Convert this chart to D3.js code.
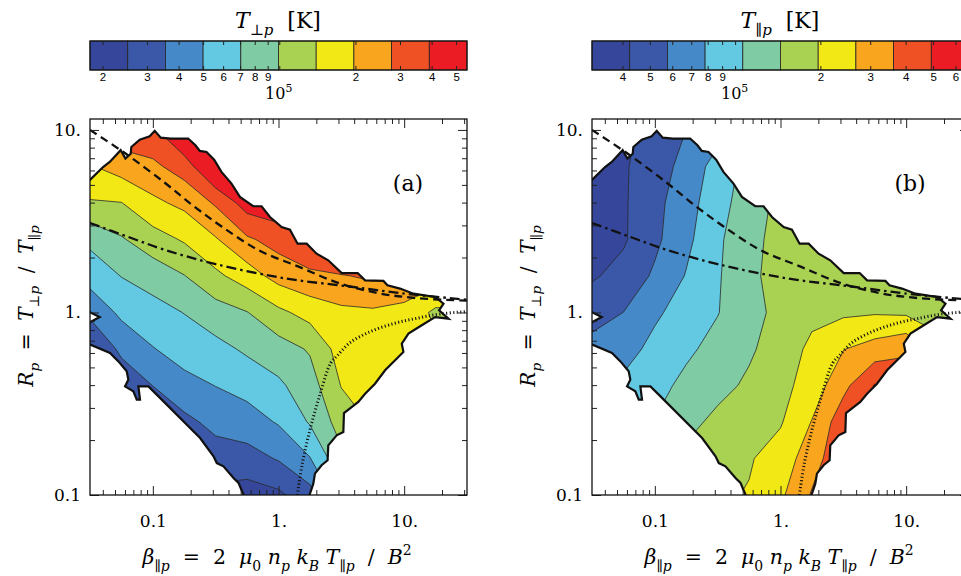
<!DOCTYPE html>
<html>
<head>
<meta charset="utf-8">
<script src="https://cdn.jsdelivr.net/npm/d3@7"></script>
<style>
  body { margin: 0; background: #fff; }
  svg { display: block; }
  text { font-family: "DejaVu Serif", "Liberation Serif", serif; fill: #000; white-space: pre; }
</style>
</head>
<body>
<svg id="chart" width="961" height="576"></svg>
<script>
// grid nodes: log10(beta_par) for columns, log10(R_p) for rows (top row first)
var gridLogBeta = [-1.5, -1.25, -1.0, -0.75, -0.5, -0.25, 0, 0.25, 0.5, 0.75, 1.0, 1.25, 1.5];
var gridLogR = [1.2, 1.0, 0.8, 0.6, 0.4, 0.2, 0.0, -0.2, -0.4, -0.6, -0.8, -1.0];

// log10(T_perp / K)
var logTperp = [
  [5.68, 5.73, 5.72, 5.81, 5.89, 5.89, 5.89, 5.89, 5.89, 5.89, 5.89, 5.74, 5.74],
  [5.48, 5.54, 5.56, 5.78, 5.86, 5.89, 5.89, 5.89, 5.89, 5.89, 5.89, 5.74, 5.74],
  [5.28, 5.36, 5.41, 5.51, 5.78, 5.84, 5.86, 5.87, 5.89, 5.89, 5.89, 5.74, 5.74],
  [5.13, 5.14, 5.26, 5.33, 5.46, 5.66, 5.70, 5.81, 5.81, 5.81, 5.74, 5.67, 5.67],
  [4.88, 4.98, 5.08, 5.16, 5.28, 5.42, 5.50, 5.58, 5.74, 5.67, 5.59, 5.52, 5.52],
  [4.76, 4.85, 4.91, 4.99, 5.11, 5.22, 5.35, 5.41, 5.43, 5.47, 5.38, 5.37, 5.37],
  [4.58, 4.73, 4.79, 4.85, 4.93, 4.99, 5.11, 5.20, 5.26, 5.27, 5.26, 5.11, 5.11],
  [4.40, 4.58, 4.69, 4.76, 4.80, 4.87, 4.93, 5.01, 5.21, 5.23, 5.26, 5.17, 5.14],
  [4.28, 4.45, 4.55, 4.65, 4.70, 4.75, 4.82, 4.93, 5.15, 5.19, 5.22, 5.17, 5.14],
  [4.18, 4.32, 4.43, 4.51, 4.59, 4.63, 4.71, 4.86, 5.06, 5.16, 5.19, 5.14, 5.14],
  [4.10, 4.22, 4.31, 4.38, 4.48, 4.49, 4.56, 4.69, 4.96, 5.11, 5.16, 5.13, 5.13],
  [4.03, 4.13, 4.21, 4.28, 4.36, 4.33, 4.37, 4.49, 4.80, 5.07, 5.11, 5.10, 5.10]
];

// log10(T_par / K)
var logTpar = [
  [4.49, 4.57, 4.67, 4.73, 4.83, 5.03, 5.16, 5.19, 5.23, 5.23, 5.23, 5.16, 5.16],
  [4.51, 4.59, 4.68, 4.76, 4.84, 5.04, 5.17, 5.20, 5.23, 5.23, 5.23, 5.16, 5.16],
  [4.52, 4.61, 4.70, 4.80, 4.95, 5.07, 5.19, 5.21, 5.23, 5.23, 5.23, 5.16, 5.16],
  [4.53, 4.61, 4.72, 4.84, 4.97, 5.10, 5.19, 5.21, 5.23, 5.23, 5.23, 5.15, 5.15],
  [4.56, 4.61, 4.73, 4.86, 5.00, 5.13, 5.19, 5.21, 5.24, 5.23, 5.23, 5.15, 5.15],
  [4.61, 4.67, 4.78, 4.90, 5.01, 5.14, 5.19, 5.21, 5.25, 5.24, 5.24, 5.13, 5.13],
  [4.71, 4.76, 4.87, 4.95, 5.02, 5.12, 5.19, 5.26, 5.27, 5.28, 5.27, 5.21, 5.21],
  [4.80, 4.84, 4.93, 5.00, 5.07, 5.14, 5.22, 5.32, 5.42, 5.48, 5.54, 5.36, 5.36],
  [4.89, 4.92, 4.98, 5.06, 5.12, 5.18, 5.25, 5.35, 5.52, 5.70, 5.62, 5.49, 5.49],
  [4.99, 5.03, 5.03, 5.12, 5.19, 5.24, 5.28, 5.43, 5.64, 5.66, 5.66, 5.56, 5.56],
  [5.07, 5.11, 5.09, 5.19, 5.23, 5.28, 5.35, 5.50, 5.66, 5.66, 5.69, 5.62, 5.62],
  [5.15, 5.19, 5.16, 5.24, 5.27, 5.30, 5.40, 5.57, 5.69, 5.66, 5.69, 5.66, 5.66]
];

// outline of the populated region, [log10 beta, log10 R]
var regionEdge = [
  [-1.53, 0.706], [-1.396, 0.797], [-1.343, 0.825], [-1.256, 0.889], [-1.218, 0.843], [-1.176, 0.870],
  [-1.171, 0.907], [-1.104, 0.947], [-1.025, 0.965], [-0.985, 0.995], [-0.937, 0.958], [-0.857, 0.953],
  [-0.719, 0.953], [-0.661, 0.916], [-0.626, 0.885], [-0.573, 0.879], [-0.512, 0.837], [-0.454, 0.770],
  [-0.374, 0.706], [-0.307, 0.633], [-0.201, 0.582], [-0.135, 0.582], [-0.068, 0.523], [0.025, 0.468],
  [0.091, 0.454], [0.152, 0.377], [0.224, 0.377], [0.303, 0.322], [0.396, 0.286], [0.503, 0.216],
  [0.630, 0.216], [0.689, 0.176], [0.835, 0.173], [0.867, 0.149], [0.967, 0.131], [1.074, 0.103],
  [1.246, 0.085], [1.313, 0.048], [1.278, 0.012], [1.353, -0.034], [1.246, -0.025], [1.140, -0.070],
  [1.034, -0.116], [0.981, -0.171], [0.994, -0.216], [0.928, -0.262], [0.848, -0.317], [0.768, -0.390],
  [0.689, -0.445], [0.635, -0.490], [0.582, -0.518], [0.521, -0.551], [0.516, -0.655], [0.463, -0.673],
  [0.396, -0.728], [0.391, -0.810], [0.343, -0.837], [0.290, -0.883], [0.277, -0.938], [0.237, -1.02],
  [-0.265, -1.02], [-0.318, -0.934], [-0.358, -0.907], [-0.438, -0.843], [-0.491, -0.825], [-0.517, -0.788],
  [-0.624, -0.688], [-0.969, -0.450], [-1.035, -0.405], [-1.115, -0.405], [-1.102, -0.478], [-1.128, -0.478],
  [-1.155, -0.432], [-1.221, -0.405], [-1.195, -0.368], [-1.208, -0.322], [-1.274, -0.268], [-1.341, -0.222],
  [-1.53, -0.167], [-1.53, -0.065], [-1.423, -0.025], [-1.53, 0.012]
];

// threshold curves, [log10 beta, log10 R]
var mirrorCurve = [[-1.5, 1.0], [-1.22, 0.872], [-0.9, 0.708], [-0.67, 0.58], [-0.45, 0.47], [-0.16, 0.342],
  [0.16, 0.251], [0.48, 0.161], [0.8, 0.105], [1.11, 0.078], [1.5, 0.065]];
var cyclotronCurve = [[-1.5, 0.49], [-1.2, 0.415], [-0.9, 0.342], [-0.5, 0.265], [0.05, 0.187], [0.58, 0.141],
  [0.98, 0.105], [1.5, 0.07]];
var firehoseCurve = [[0.15, -1.0], [0.19, -0.826], [0.25, -0.644], [0.325, -0.461], [0.415, -0.278], [0.47, -0.235],
  [0.57, -0.165], [0.73, -0.105], [0.92, -0.06], [1.1, -0.032], [1.29, -0.008], [1.5, 0.005]];

// colour bars: log10 T range and labelled ticks
var perpBarLogT = [4.25, 5.74];
var parBarLogT = [4.493, 5.824];
var perpBarTicks = [2e4, 3e4, 4e4, 5e4, 6e4, 7e4, 8e4, 9e4, 1e5, 2e5, 3e5, 4e5, 5e5];
var parBarTicks = [4e4, 5e4, 6e4, 7e4, 8e4, 9e4, 1e5, 2e5, 3e5, 4e5, 5e5, 6e5];
var bandColors = ["#35469b", "#3b57a7", "#4689c8", "#63c9e2", "#7ecba4", "#a9d152", "#f2e815", "#f9a51d", "#ef5125", "#ec1c24"];

var axisMajor = [0.1, 1, 10];
var axisMajorLabels = ["0.1", "1.", "10."];

var svg = d3.select("#chart");
var defs = svg.append("defs");
var pow10 = function(v) { return Math.pow(10, v); };

// write text made of [string, style, level] parts; level 1 = subscript, -1 = superscript
function richText(sel, parts, size) {
  var cur = 0;
  parts.forEach(function(p) {
    var ts = sel.append("tspan").text(p[0]);
    if (p[1] == "i") ts.style("font-style", "italic");
    var target = p[2] == 1 ? size * 0.32 : (p[2] == -1 ? -size * 0.45 : 0);
    if (target != cur) { ts.attr("dy", target - cur); cur = target; }
    if (p[2] != 0) ts.style("font-size", (size * 0.68) + "px");
  });
}

function colorbar(left, logRange, ticks) {
  var cb = d3.scaleLog().domain([pow10(logRange[0]), pow10(logRange[1])]).range([left, left + 377]);
  var step = (logRange[1] - logRange[0]) / 10;
  var g = svg.append("g");
  d3.range(10).forEach(function(k) {
    var x0 = cb(pow10(logRange[0] + k * step)), x1 = cb(pow10(logRange[0] + (k + 1) * step));
    g.append("rect").attr("x", x0).attr("y", 41).attr("width", x1 - x0).attr("height", 29)
      .attr("fill", bandColors[k]).attr("stroke", "#222").attr("stroke-width", 0.8);
  });
  g.append("rect").attr("x", left).attr("y", 41).attr("width", 377).attr("height", 29)
    .attr("fill", "none").attr("stroke", "#111").attr("stroke-width", 1.2);
  ticks.forEach(function(t) {
    var xt = cb(t);
    g.append("line").attr("x1", xt).attr("x2", xt).attr("y1", 41).attr("y2", 45).attr("stroke", "#222").attr("stroke-width", 1);
    g.append("line").attr("x1", xt).attr("x2", xt).attr("y1", 66).attr("y2", 70).attr("stroke", "#222").attr("stroke-width", 1);
    if (t == 1e5) {
      var tx = g.append("text").attr("x", xt - 1).attr("y", 99).attr("text-anchor", "middle").style("font-size", "16px");
      richText(tx, [["10", "n", 0], ["5", "n", -1]], 16);
    } else {
      var d = Math.round(t / pow10(Math.floor(Math.log10(t))));
      g.append("text").attr("x", xt).attr("y", 81).attr("text-anchor", "middle")
        .style("font-family", "'Liberation Sans', 'DejaVu Sans', sans-serif").style("font-size", "11.5px").text(d);
    }
  });
}

function panel(id, left, grid, barRange, letter, barTitle) {
  var x = d3.scaleLog().domain([pow10(-1.5), pow10(1.5)]).range([left, left + 377]);
  var y = d3.scaleLog().domain([0.1, pow10(1.06)]).range([495, 119]);
  var g = svg.append("g");

  defs.append("clipPath").attr("id", "plot" + id).append("rect")
    .attr("x", left).attr("y", 119).attr("width", 377).attr("height", 376);

  var edgeLine = d3.line()
    .x(function(d) { return x(pow10(d[0])); })
    .y(function(d) { return y(pow10(d[1])); });
  defs.append("clipPath").attr("id", "region" + id).append("path").attr("d", edgeLine(regionEdge) + "Z");

  // filled contours from the grid
  var db = gridLogBeta[1] - gridLogBeta[0], dr = gridLogR[1] - gridLogR[0];
  var proj = d3.geoTransform({ point: function(px, py) {
    var lb = gridLogBeta[0] + (px - 0.5) * db;
    var lr = gridLogR[0] + (py - 0.5) * dr;
    this.stream.point(x(pow10(lb)), y(pow10(lr)));
  }});
  var path = d3.geoPath(proj);
  var step = (barRange[1] - barRange[0]) / 10;
  var levels = d3.range(1, 10).map(function(k) { return barRange[0] + k * step; });
  var flat = [].concat.apply([], grid);
  var bands = d3.contours().size([gridLogBeta.length, gridLogR.length]).thresholds(levels)(flat);

  var fillG = g.append("g").attr("clip-path", "url(#plot" + id + ")")
    .append("g").attr("clip-path", "url(#region" + id + ")");
  fillG.append("path").attr("d", edgeLine(regionEdge) + "Z").attr("fill", bandColors[0]);
  fillG.selectAll("path.band").data(bands).enter().append("path")
    .attr("class", "band")
    .attr("d", path)
    .attr("fill", function(d, i) { return bandColors[i + 1]; })
    .attr("stroke", "#2a2a2a").attr("stroke-width", 0.8).attr("stroke-linejoin", "round");

  var lineG = g.append("g").attr("clip-path", "url(#plot" + id + ")");
  lineG.append("path").attr("d", edgeLine(regionEdge) + "Z")
    .attr("fill", "none").attr("stroke", "#111").attr("stroke-width", 2.2).attr("stroke-linejoin", "miter");

  var curve = d3.line()
    .x(function(d) { return x(pow10(d[0])); })
    .y(function(d) { return y(pow10(d[1])); })
    .curve(d3.curveCatmullRom);
  lineG.append("path").attr("d", curve(mirrorCurve)).attr("fill", "none")
    .attr("stroke", "#111").attr("stroke-width", 2.3).attr("stroke-dasharray", "8,5");
  lineG.append("path").attr("d", curve(cyclotronCurve)).attr("fill", "none")
    .attr("stroke", "#111").attr("stroke-width", 2.3).attr("stroke-dasharray", "10,4,2.5,4");
  lineG.append("path").attr("d", curve(firehoseCurve)).attr("fill", "none")
    .attr("stroke", "#111").attr("stroke-width", 3).attr("stroke-dasharray", "1.1,2.4");

  // axes: inward ticks on all four sides
  var isMajor = function(t) { return Math.abs(Math.log10(t) - Math.round(Math.log10(t))) < 1e-6; };
  var xMinor = x.ticks().filter(function(t) { return !isMajor(t); });
  var yMinor = y.ticks().filter(function(t) { return !isMajor(t); });
  var fmt = function(t) { return axisMajorLabels[axisMajor.indexOf(t)]; };

  function axis(gen, scale, vals, size, labels, tr, pad) {
    var a = gen(scale).tickValues(vals).tickSize(-size).tickSizeOuter(0).tickPadding(pad)
      .tickFormat(labels ? fmt : "");
    var ag = g.append("g").attr("transform", tr).call(a);
    ag.select(".domain").remove();
    ag.selectAll("line").attr("stroke", "#222").attr("stroke-width", 1);
    ag.selectAll("text").attr("font-family", null).style("font-size", "17px");
    return ag;
  }
  axis(d3.axisBottom, x, xMinor, 5, false, "translate(0,495)", 0);
  axis(d3.axisBottom, x, axisMajor, 9, true, "translate(0,495)", 20);
  axis(d3.axisTop, x, xMinor, 5, false, "translate(0,119)", 0);
  axis(d3.axisTop, x, axisMajor, 9, false, "translate(0,119)", 0);
  axis(d3.axisLeft, y, yMinor, 5, false, "translate(" + left + ",0)", 0);
  axis(d3.axisLeft, y, axisMajor, 9, true, "translate(" + left + ",0)", 9);
  axis(d3.axisRight, y, yMinor, 5, false, "translate(" + (left + 377) + ",0)", 0);
  axis(d3.axisRight, y, axisMajor, 9, false, "translate(" + (left + 377) + ",0)", 0);

  g.append("rect").attr("x", left).attr("y", 119).attr("width", 377).attr("height", 376)
    .attr("fill", "none").attr("stroke", "#111").attr("stroke-width", 1.3);

  g.append("text").attr("x", left + 318).attr("y", 191).attr("text-anchor", "middle")
    .style("font-size", "22px").text(letter);

  var xt = g.append("text").attr("x", left + 187).attr("y", 564).attr("text-anchor", "middle").style("font-size", "20.5px");
  richText(xt, [["β", "i", 0], ["∥", "n", 1], ["p", "i", 1], ["  =  2  ", "n", 0], ["μ", "i", 0], ["0", "n", 1],
    [" n", "i", 0], ["p", "i", 1], [" k", "i", 0], ["B", "i", 1], [" T", "i", 0], ["∥", "n", 1], ["p", "i", 1],
    ["  /  ", "n", 0], ["B", "i", 0], ["2", "n", -1]], 20.5);

  var yt = g.append("text").attr("transform", "translate(" + (left - 57) + ",306) rotate(-90)")
    .attr("text-anchor", "middle").style("font-size", "20px");
  richText(yt, [["R", "i", 0], ["p", "i", 1], ["  =  ", "n", 0], ["T", "i", 0], ["⊥", "n", 1], ["p", "i", 1],
    ["  /  ", "n", 0], ["T", "i", 0], ["∥", "n", 1], ["p", "i", 1]], 20);

  var ct = g.append("text").attr("x", left + 188).attr("y", 28).attr("text-anchor", "middle").style("font-size", "22px");
  richText(ct, [["T", "i", 0], [barTitle, "n", 1], ["p", "i", 1], ["  [K]", "n", 0]], 22);
}

panel("a", 90, logTperp, perpBarLogT, "(a)", "⊥");
panel("b", 592, logTpar, parBarLogT, "(b)", "∥");
colorbar(90, perpBarLogT, perpBarTicks);
colorbar(592, parBarLogT, parBarTicks);
</script>
</body>
</html>
